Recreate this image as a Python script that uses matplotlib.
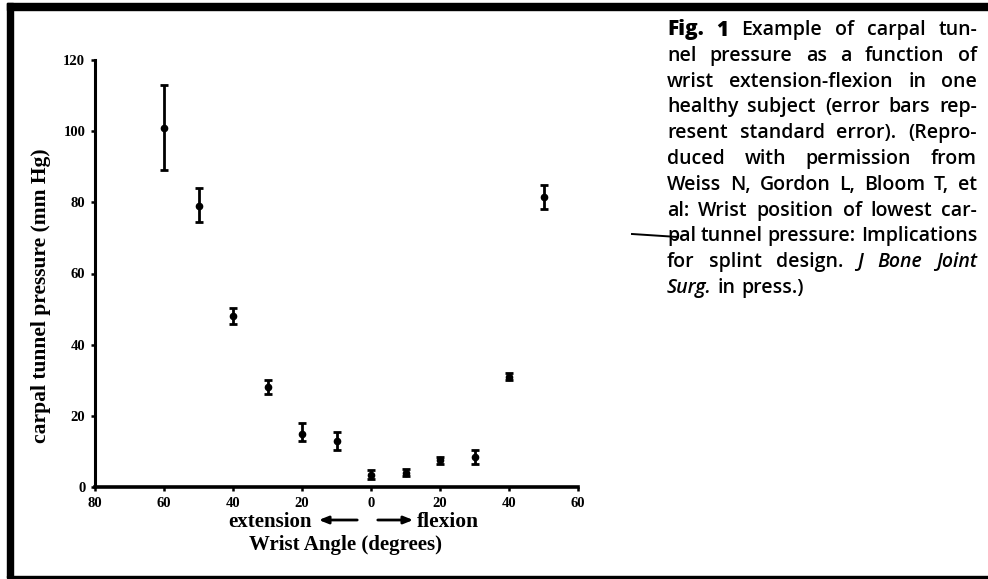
import matplotlib
matplotlib.use("Agg")
import matplotlib.pyplot as plt
from matplotlib.patches import Rectangle
from matplotlib.lines import Line2D

# Data
angle = [-60, -50, -40, -30, -20, -10, 0, 10, 20, 30, 40, 50]
pressure = [101, 79, 48, 28, 15, 13, 3.5, 4, 7.5, 8.5, 31, 81.5]
err_low = [12, 4.5, 2.2, 2, 2.2, 2.5, 1.3, 1, 1, 2, 1, 3.5]
err_high = [12, 5, 2.2, 2, 3, 2.5, 1.3, 1, 1, 2, 1, 3.5]
x_ticks = [-80, -60, -40, -20, 0, 20, 40, 60]
y_ticks = [0, 20, 40, 60, 80, 100, 120]

caption = [
    [("Fig.", "bold"), ("1", "bold"), ("Example", ""), ("of", ""), ("carpal", ""), ("tun-", "")],
    [("nel", ""), ("pressure", ""), ("as", ""), ("a", ""), ("function", ""), ("of", "")],
    [("wrist", ""), ("extension-flexion", ""), ("in", ""), ("one", "")],
    [("healthy", ""), ("subject", ""), ("(error", ""), ("bars", ""), ("rep-", "")],
    [("resent", ""), ("standard", ""), ("error).", ""), ("(Repro-", "")],
    [("duced", ""), ("with", ""), ("permission", ""), ("from", "")],
    [("Weiss", ""), ("N,", ""), ("Gordon", ""), ("L,", ""), ("Bloom", ""), ("T,", ""), ("et", "")],
    [("al:", ""), ("Wrist", ""), ("position", ""), ("of", ""), ("lowest", ""), ("car-", "")],
    [("pal", ""), ("tunnel", ""), ("pressure:", ""), ("Implications", "")],
    [("for", ""), ("splint", ""), ("design.", ""), ("J", "italic"), ("Bone", "italic"), ("Joint", "italic")],
    [("Surg.", "italic"), ("in", ""), ("press.)", "")],
]

W, H = 988, 579
fig = plt.figure(figsize=(W / 100, H / 100), dpi=100)
fig.patch.set_facecolor("white")

# scan border
fig.patches.append(Rectangle((7 / W, 2 / H), 6 / W, 574 / H, transform=fig.transFigure,
                             color="black", zorder=0))
fig.patches.append(Rectangle((7 / W, 1 - 10 / H), 1 - 7 / W, 7 / H, transform=fig.transFigure,
                             color="black", zorder=0))
fig.patches.append(Rectangle((7 / W, 1 - 578 / H), 1 - 7 / W, 2 / H, transform=fig.transFigure,
                             color="black", zorder=0))

ax = fig.add_axes([95 / W, 1 - 487 / H, 483 / W, 427 / H])
ax.errorbar(angle, pressure, yerr=[err_low, err_high], fmt="o", color="black",
            ms=4.5, elinewidth=2, capsize=3, capthick=2, clip_on=False)
ax.set_xlim(-80, 60)
ax.set_ylim(0, 120)
ax.spines["top"].set_visible(False)
ax.spines["right"].set_visible(False)
ax.spines["left"].set_linewidth(2.2)
ax.spines["bottom"].set_linewidth(2.6)
ax.set_xticks(x_ticks)
ax.set_xticklabels([str(abs(t)) for t in x_ticks])
ax.set_yticks(y_ticks)
ax.tick_params(length=3, width=1.8, pad=4)
for lab in ax.get_xticklabels() + ax.get_yticklabels():
    lab.set_fontfamily("Liberation Serif")
    lab.set_fontweight("bold")
    lab.set_fontsize(10.5)

serif = dict(family="Liberation Serif", weight="bold", color="black")
fig.text(41 / W, 1 - 296 / H, "carpal tunnel pressure (mm Hg)", rotation=90,
         ha="center", va="center", fontsize=15.5, **serif)
fig.text(312 / W, 1 - 522 / H, "extension", ha="right", va="center", fontsize=15, **serif)
fig.text(417 / W, 1 - 522 / H, "flexion", ha="left", va="center", fontsize=15.5, **serif)
fig.text(345 / W, 1 - 545 / H, "Wrist Angle (degrees)", ha="center", va="center",
         fontsize=15, **serif)
arrow = dict(arrowstyle="-|>,head_length=0.55,head_width=0.22", color="black", lw=2)
fig.add_artist(plt.Annotation("", xy=(316 / W, 1 - 520 / H), xytext=(360 / W, 1 - 520 / H),
                              xycoords="figure fraction", textcoords="figure fraction",
                              arrowprops=arrow))
fig.add_artist(plt.Annotation("", xy=(416 / W, 1 - 520 / H), xytext=(375 / W, 1 - 520 / H),
                              xycoords="figure fraction", textcoords="figure fraction",
                              arrowprops=arrow))

# justified caption block
renderer = fig.canvas.get_renderer()
x0, x1 = 667, 977
top, step = 30, 25.8
for i, line in enumerate(caption):
    y = 1 - (top + i * step) / H
    texts = []
    for word, style in line:
        kw = dict(family="Open Sans", fontsize=14, weight="semibold", color="black",
                  va="center", ha="left")
        if style == "bold":
            kw["weight"] = "heavy"
            kw["fontsize"] = 15
        elif style == "italic":
            kw["style"] = "italic"
        texts.append(fig.text(0, y, word, **kw))
    widths = [t.get_window_extent(renderer).width for t in texts]
    if i == len(caption) - 1:
        gap = 6
    else:
        gap = max(4, (x1 - x0 - sum(widths)) / (len(texts) - 1))
    xpos = x0
    for t, w in zip(texts, widths):
        t.set_x(xpos / W)
        xpos += w + gap

# pen stroke through "pal"
fig.add_artist(Line2D([632 / W, 678 / W], [1 - 234 / H, 1 - 237 / H], color="black", lw=1.4))

fig.savefig("out.png", dpi=100)
